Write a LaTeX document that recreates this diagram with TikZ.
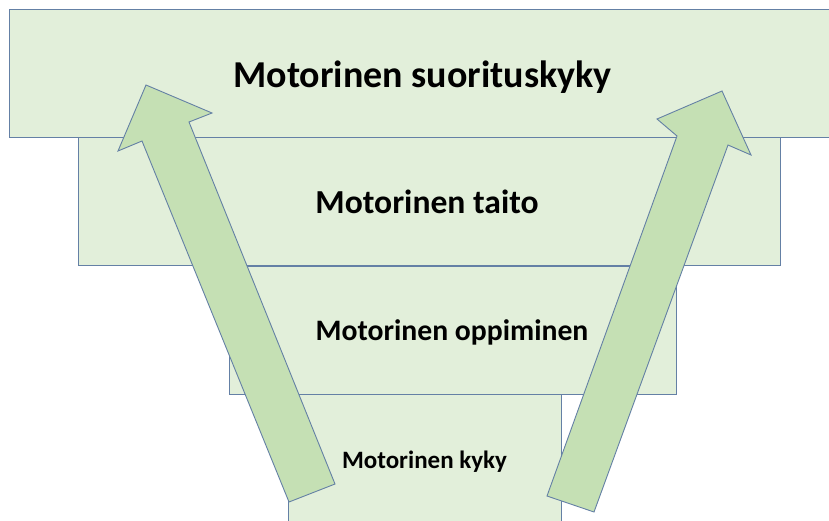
\documentclass[tikz,border=0pt]{standalone}
\usepackage{fontspec}
\setmainfont{Carlito}
\definecolor{boxfill}{RGB}{226,239,218}
\definecolor{arrowfill}{RGB}{197,224,180}
\definecolor{edge}{RGB}{100,128,165}
\tikzset{
  level/.style={fill=boxfill, draw=edge, line width=0.9pt},
  bigarrow/.style={fill=arrowfill, draw=edge, line width=0.9pt, line join=miter},
  label/.style={anchor=base, inner sep=0pt, font=\bfseries}
}
\begin{document}
\begin{tikzpicture}[x=1pt, y=-1pt]
\useasboundingbox (0,0) rectangle (829,520);
\fill[white] (0,0) rectangle (829,520);
% stacked levels, widest on top
\draw[level] (9,9) rectangle (835,137);
\draw[level] (78,137) rectangle (780,265);
\draw[level] (229,266) rectangle (676,394);
\draw[level] (288,394) rectangle (561,530);
% level captions
\node[label, font=\bfseries\fontsize{38}{44}\selectfont] (t1) at (422.5,87) {Motorinen suorituskyky};
\node[label, font=\bfseries\fontsize{33.6}{40}\selectfont] (t2) at (427,213) {Motorinen taito};
\node[label, font=\bfseries\fontsize{29.7}{35}\selectfont] (t3) at (452,340) {Motorinen oppiminen};
\node[label, font=\bfseries\fontsize{25}{30}\selectfont] (t4) at (424.5,468) {Motorinen kyky};
% rising block arrows
\draw[bigarrow] (289,502) -- (142,141) -- (118,151) -- (146,85) -- (212,113) -- (189,122) -- (335,484) -- cycle;
\draw[bigarrow] (547,496) -- (677,136) -- (657,119) -- (722,91) -- (751,155) -- (728,145) -- (594,512) -- cycle;
\end{tikzpicture}
\end{document}
